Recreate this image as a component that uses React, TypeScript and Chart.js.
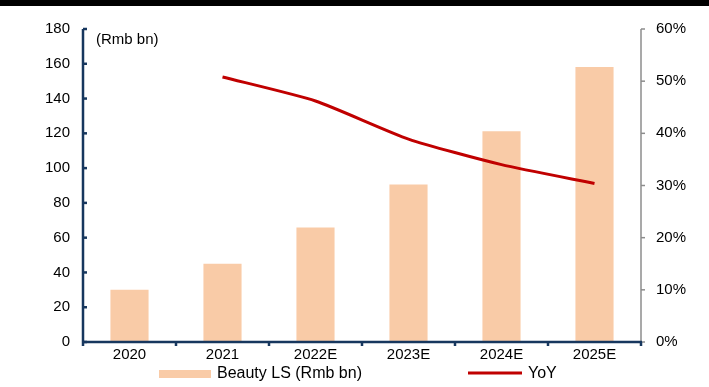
import React, { useEffect, useRef } from "react";
import { Chart, registerables } from "chart.js";

Chart.register(...registerables);

const categories = ["2020", "2021", "2022E", "2023E", "2024E", "2025E"];
const beautyLS = [30.0, 45.0, 65.8, 90.6, 121.2, 158.1];
const yoy = [null, 50.8, 46.2, 38.9, 34.0, 30.4];
const leftMax = 180;
const leftStep = 20;
const rightMax = 60;
const rightStep = 10;
const unitLabel = "(Rmb bn)";
const barLabel = "Beauty LS (Rmb bn)";
const lineLabel = "YoY";

const FONT = "'Liberation Sans', Arial, sans-serif";
const NAVY = "#17375E";
const BAR = "#F9CBA7";
const RED = "#C00000";
const GRAY = "#8C8C8C";

const customPlugin = {
  id: "customDecor",
  afterDraw(chart: any) {
    const ctx = chart.ctx;
    const { left, right, top, bottom } = chart.chartArea;
    const y = chart.scales.y;
    const y1 = chart.scales.y1;
    const x = chart.scales.x;
    ctx.save();
    // right axis
    ctx.strokeStyle = GRAY;
    ctx.lineWidth = 1.5;
    ctx.beginPath();
    ctx.moveTo(right, top);
    ctx.lineTo(right, bottom);
    ctx.stroke();
    y1.ticks.forEach((t: any) => {
      const py = y1.getPixelForValue(t.value);
      ctx.beginPath();
      ctx.moveTo(right, py);
      ctx.lineTo(right + 4, py);
      ctx.stroke();
    });
    // left axis
    ctx.strokeStyle = NAVY;
    ctx.lineWidth = 2.5;
    ctx.beginPath();
    ctx.moveTo(left, top);
    ctx.lineTo(left, bottom);
    ctx.stroke();
    y.ticks.forEach((t: any) => {
      const py = y.getPixelForValue(t.value);
      ctx.beginPath();
      ctx.moveTo(left, py);
      ctx.lineTo(left + 4, py);
      ctx.stroke();
    });
    // bottom axis
    ctx.beginPath();
    ctx.moveTo(left - 1, bottom);
    ctx.lineTo(right + 1, bottom);
    ctx.stroke();
    const n = chart.data.labels.length;
    for (let i = 0; i <= n; i++) {
      const px =
        i < n
          ? x.getPixelForValue(i) - (x.getPixelForValue(1) - x.getPixelForValue(0)) / 2
          : x.getPixelForValue(n - 1) + (x.getPixelForValue(1) - x.getPixelForValue(0)) / 2;
      ctx.beginPath();
      ctx.moveTo(px, bottom);
      ctx.lineTo(px, bottom + 4);
      ctx.stroke();
    }
    // unit label
    ctx.fillStyle = "#000";
    ctx.font = `15px ${FONT}`;
    ctx.textAlign = "left";
    ctx.textBaseline = "middle";
    ctx.fillText(unitLabel, left + 13, y.getPixelForValue(leftMax) + 11);
    // legend
    const ly = 374;
    const ds = chart.data.datasets;
    ctx.font = `16px ${FONT}`;
    ctx.fillStyle = ds[0].backgroundColor;
    ctx.fillRect(159, ly - 4, 52, 8);
    ctx.fillStyle = "#000";
    ctx.fillText(ds[0].label, 217, ly);
    ctx.strokeStyle = ds[1].borderColor;
    ctx.lineWidth = 3;
    ctx.beginPath();
    ctx.moveTo(468, ly - 1);
    ctx.lineTo(522, ly - 1);
    ctx.stroke();
    ctx.fillStyle = "#000";
    ctx.fillText(ds[1].label, 528, ly);
    ctx.restore();
  },
};

export default function App() {
  const canvasRef = useRef<HTMLCanvasElement | null>(null);

  useEffect(() => {
    document.body.style.margin = "0";
    const canvas = canvasRef.current;
    if (!canvas) return;
    const chart = new Chart(canvas, {
      type: "bar",
      data: {
        labels: categories,
        datasets: [
          {
            type: "bar",
            label: barLabel,
            data: beautyLS,
            backgroundColor: BAR,
            borderWidth: 0,
            yAxisID: "y",
            categoryPercentage: 1,
            barPercentage: 0.41,
            order: 2,
          },
          {
            type: "line",
            label: lineLabel,
            data: yoy as any,
            borderColor: RED,
            backgroundColor: RED,
            borderWidth: 3,
            pointRadius: 0,
            tension: 0.2,
            yAxisID: "y1",
            order: 1,
          },
        ],
      },
      options: {
        responsive: false,
        animation: false,
        layout: { padding: { top: 29, left: 0, right: 0, bottom: 0 } },
        plugins: {
          legend: { display: false },
          tooltip: { enabled: false },
        },
        scales: {
          x: {
            offset: true,
            grid: { display: false, drawTicks: false },
            border: { display: false },
            ticks: {
              color: "#000",
              font: { family: FONT, size: 15 },
              padding: 4,
              maxRotation: 0,
            },
            afterFit: (s: any) => {
              s.height = 45;
            },
          },
          y: {
            position: "left",
            min: 0,
            max: leftMax,
            grid: { display: false, drawTicks: false },
            border: { display: false },
            ticks: {
              stepSize: leftStep,
              color: "#000",
              font: { family: FONT, size: 15 },
              padding: 13,
            },
            afterFit: (s: any) => {
              s.width = 83;
            },
          },
          y1: {
            position: "right",
            min: 0,
            max: rightMax,
            grid: { display: false, drawTicks: false },
            border: { display: false },
            ticks: {
              stepSize: rightStep,
              color: "#000",
              font: { family: FONT, size: 15 },
              padding: 15,
              callback: (v: any) => `${v}%`,
            },
            afterFit: (s: any) => {
              s.width = 68;
            },
          },
        },
      },
      plugins: [customPlugin],
    });
    return () => chart.destroy();
  }, []);

  return (
    <div style={{ position: "relative", width: 709, height: 387, background: "#fff" }}>
      <canvas ref={canvasRef} width={709} height={387} style={{ display: "block" }} />
      <div
        style={{
          position: "absolute",
          left: 0,
          top: 0,
          width: 709,
          height: 6,
          background: "#000",
        }}
      />
    </div>
  );
}
